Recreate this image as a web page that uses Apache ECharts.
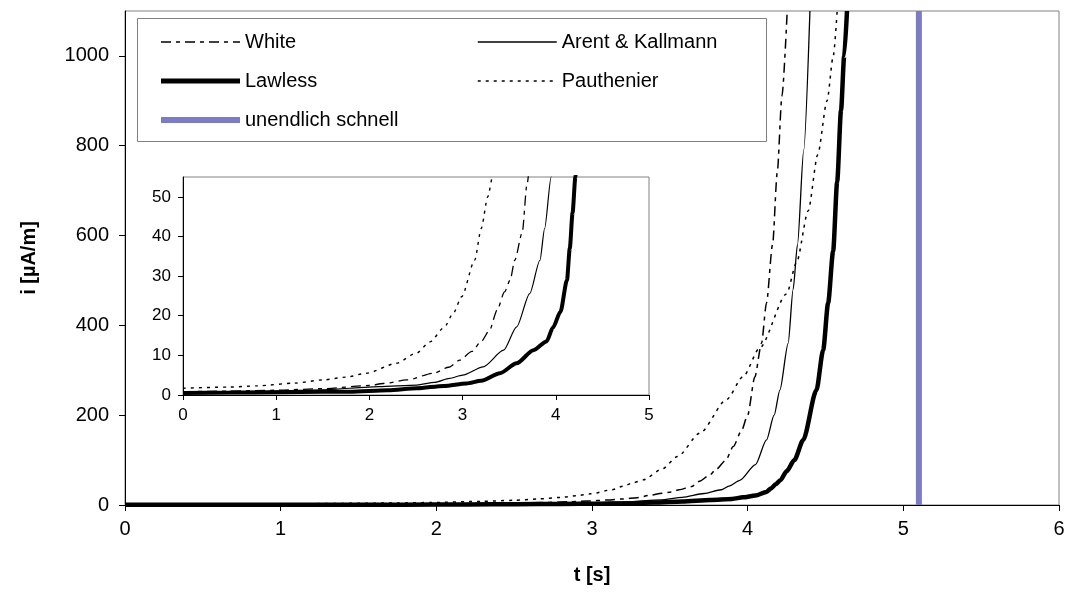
<!DOCTYPE html>
<html>
<head>
<meta charset="utf-8">
<script src="https://cdn.jsdelivr.net/npm/echarts@6/dist/echarts.min.js"></script>
<style>
  html, body { margin: 0; padding: 0; background: #ffffff; }
  #chart { width: 1069px; height: 592px; }
</style>
</head>
<body>
<div id="chart"></div>
<script>
// Current i [µA/m] over time t [s] for the different charging models
const seriesNames = ['White', 'Arent & Kallmann', 'Lawless', 'Pauthenier', 'unendlich schnell'];

const xTicksMain = [0, 1, 2, 3, 4, 5, 6];
const yTicksMain = [0, 200, 400, 600, 800, 1000];
const xTicksInset = [0, 1, 2, 3, 4, 5];
const yTicksInset = [0, 10, 20, 30, 40, 50];

// [t, i] pairs
const whiteData = [
  [0, 0.8], [0.5, 1.0], [1.0, 1.2], [1.5, 1.6], [2.0, 2.4], [2.15, 2.9], [2.4, 3.8],
  [2.69, 5.5], [2.85, 7], [2.97, 8.8], [3.1, 11], [3.2, 13.5], [3.29, 16.4], [3.37, 21.4],
  [3.45, 26], [3.51, 29], [3.56, 34], [3.64, 41], [3.69, 53], [3.75, 65], [3.8, 80],
  [3.86, 100], [3.907, 130], [3.96, 165], [4.0, 200], [4.046, 285], [4.089, 360],
  [4.121, 450], [4.16, 580], [4.19, 740], [4.22, 910], [4.254, 1100]
];
const arentData = [
  [0, 0.6], [0.5, 0.8], [1.0, 1.0], [1.5, 1.3], [1.79, 1.7], [2.1, 2.1], [2.51, 2.5],
  [2.7, 3.2], [2.86, 4.2], [3.0, 5.0], [3.22, 7.1], [3.44, 11.3], [3.58, 17.2], [3.72, 25.6],
  [3.83, 34], [3.88, 42], [3.95, 55], [4.05, 90], [4.121, 145], [4.17, 200], [4.207, 256],
  [4.26, 360], [4.292, 480], [4.32, 580], [4.36, 790], [4.40, 1100]
];
const lawlessData = [
  [0, 0.5], [0.5, 0.6], [1.0, 0.7], [1.5, 0.8], [1.79, 0.8], [2.2, 1.2], [2.51, 1.7],
  [2.8, 2.3], [3.04, 2.9], [3.2, 3.6], [3.4, 5.5], [3.58, 8], [3.76, 11.3], [3.9, 13.5],
  [3.97, 17], [4.05, 21], [4.12, 29], [4.15, 37], [4.18, 46], [4.21, 55], [4.25, 75],
  [4.3, 100], [4.357, 145], [4.442, 256], [4.485, 345], [4.517, 450], [4.549, 565],
  [4.575, 720], [4.60, 880], [4.62, 1000], [4.638, 1100]
];
const pauthenierData = [
  [0, 1.7], [0.5, 2.0], [0.79, 2.3], [1.2, 3.0], [1.5, 3.8], [1.75, 4.5], [1.97, 5.5],
  [2.29, 8], [2.5, 10.5], [2.65, 13.4], [2.8, 17], [2.9, 20.6], [2.99, 24.8], [3.13, 34],
  [3.2, 42], [3.27, 50], [3.33, 56], [3.45, 80], [3.55, 108], [3.693, 160], [3.865, 235],
  [3.971, 286], [4.078, 350], [4.25, 470], [4.314, 540], [4.389, 655], [4.45, 780],
  [4.51, 900], [4.55, 1000], [4.575, 1100]
];
// instantaneous charging limit
const infiniteData = [[5.1, 0], [5.1, 1100]];

const FONT = "'Liberation Sans', Arial, sans-serif";
const BLUE = '#7b7bc6';
const dashDot = [10, 5, 4, 5];
const dotted = [3, 5];

const chart = echarts.init(document.getElementById('chart'), null, { renderer: 'canvas' });

function lineSeries(name, data, axisIdx, width, type, z) {
  return {
    name: name,
    type: 'line',
    xAxisIndex: axisIdx,
    yAxisIndex: axisIdx,
    data: data,
    showSymbol: false,
    symbol: 'none',
    smooth: 0.25,
    smoothMonotone: 'x',
    clip: true,
    z: z,
    lineStyle: { color: '#000', width: width, type: type, cap: 'butt' },
    itemStyle: { color: '#000' },
    emphasis: { disabled: true },
    animation: false
  };
}

function axis(gridIndex, min, max, interval, ticks, fontSize, margin, tickLen, extra) {
  return Object.assign({
    type: 'value', gridIndex: gridIndex, min: min, max: max, interval: interval,
    axisLine: { show: true, lineStyle: { color: '#000', width: 1 } },
    axisTick: { show: true, inside: false, length: tickLen, lineStyle: { color: '#000', width: 1 }, customValues: ticks },
    axisLabel: {
      color: '#000', fontSize: fontSize, fontFamily: FONT, margin: margin, customValues: ticks,
      formatter: function (v) { return String(v); }
    },
    splitLine: { show: false }
  }, extra || {});
}

function legendItem(name, width, type, color) {
  return {
    name: name,
    itemStyle: { opacity: 0, borderWidth: 0 },
    lineStyle: { color: color || '#000', width: width, type: type, opacity: 1, cap: 'butt' }
  };
}

const legendText = { fontSize: 20, color: '#000', fontFamily: FONT };

const option = {
  backgroundColor: '#ffffff',
  animation: false,
  textStyle: { fontFamily: FONT },
  grid: [
    { left: 125, right: 10, top: 11, bottom: 87, show: true, borderColor: '#808080', borderWidth: 1, backgroundColor: 'transparent', z: 0 },
    { left: 183, right: 420, top: 177, bottom: 197, show: true, borderColor: '#808080', borderWidth: 1, backgroundColor: '#ffffff', z: 3 }
  ],
  xAxis: [
    axis(0, 0, 6, 1, xTicksMain, 20, 14, 6, {
      name: 't [s]', nameLocation: 'middle', nameGap: 60,
      nameTextStyle: { fontSize: 20, fontWeight: 'bold', color: '#000', fontFamily: FONT }
    }),
    axis(1, 0, 5, 1, xTicksInset, 17, 12, 5, { z: 4 })
  ],
  yAxis: [
    axis(0, 0, 1100, 200, yTicksMain, 20, 16, 6, {
      name: 'i [µA/m]', nameLocation: 'middle', nameGap: 86, nameRotate: 90,
      nameTextStyle: { fontSize: 20, fontWeight: 'bold', color: '#000', fontFamily: FONT }
    }),
    axis(1, 0, 55, 10, yTicksInset, 17, 12, 5, { z: 4 })
  ],
  legend: [
    {
      data: [
        legendItem(seriesNames[0], 1.5, dashDot),
        legendItem(seriesNames[2], 5, 'solid'),
        legendItem(seriesNames[4], 6, 'solid', BLUE)
      ],
      orient: 'vertical', left: 153, top: 27, itemWidth: 79, itemHeight: 14, itemGap: 19,
      textStyle: legendText, selectedMode: false, z: 10
    },
    {
      data: [
        legendItem(seriesNames[1], 1.3, 'solid'),
        legendItem(seriesNames[3], 1.5, dotted)
      ],
      orient: 'vertical', left: 472, top: 27, itemWidth: 79, itemHeight: 14, itemGap: 19,
      textStyle: legendText, selectedMode: false, z: 10
    }
  ],
  graphic: [
    {
      type: 'rect', left: 137, top: 18, z: 5,
      shape: { width: 629, height: 123 },
      style: { fill: '#ffffff', stroke: '#808080', lineWidth: 1 }
    }
  ],
  series: [
    lineSeries(seriesNames[0], whiteData, 0, 1.5, dashDot, 2),
    lineSeries(seriesNames[1], arentData, 0, 1.3, 'solid', 2),
    lineSeries(seriesNames[2], lawlessData, 0, 4.5, 'solid', 2),
    lineSeries(seriesNames[3], pauthenierData, 0, 1.5, dotted, 2),
    {
      name: seriesNames[4], type: 'line', xAxisIndex: 0, yAxisIndex: 0,
      data: infiniteData, showSymbol: false, symbol: 'none', z: 2,
      lineStyle: { color: BLUE, width: 6 }, itemStyle: { color: BLUE },
      emphasis: { disabled: true }, animation: false
    },
    lineSeries(seriesNames[0], whiteData, 1, 1.3, dashDot, 5),
    lineSeries(seriesNames[1], arentData, 1, 1.2, 'solid', 5),
    lineSeries(seriesNames[2], lawlessData, 1, 4, 'solid', 5),
    lineSeries(seriesNames[3], pauthenierData, 1, 1.4, dotted, 5)
  ]
};

chart.setOption(option);
</script>
</body>
</html>
